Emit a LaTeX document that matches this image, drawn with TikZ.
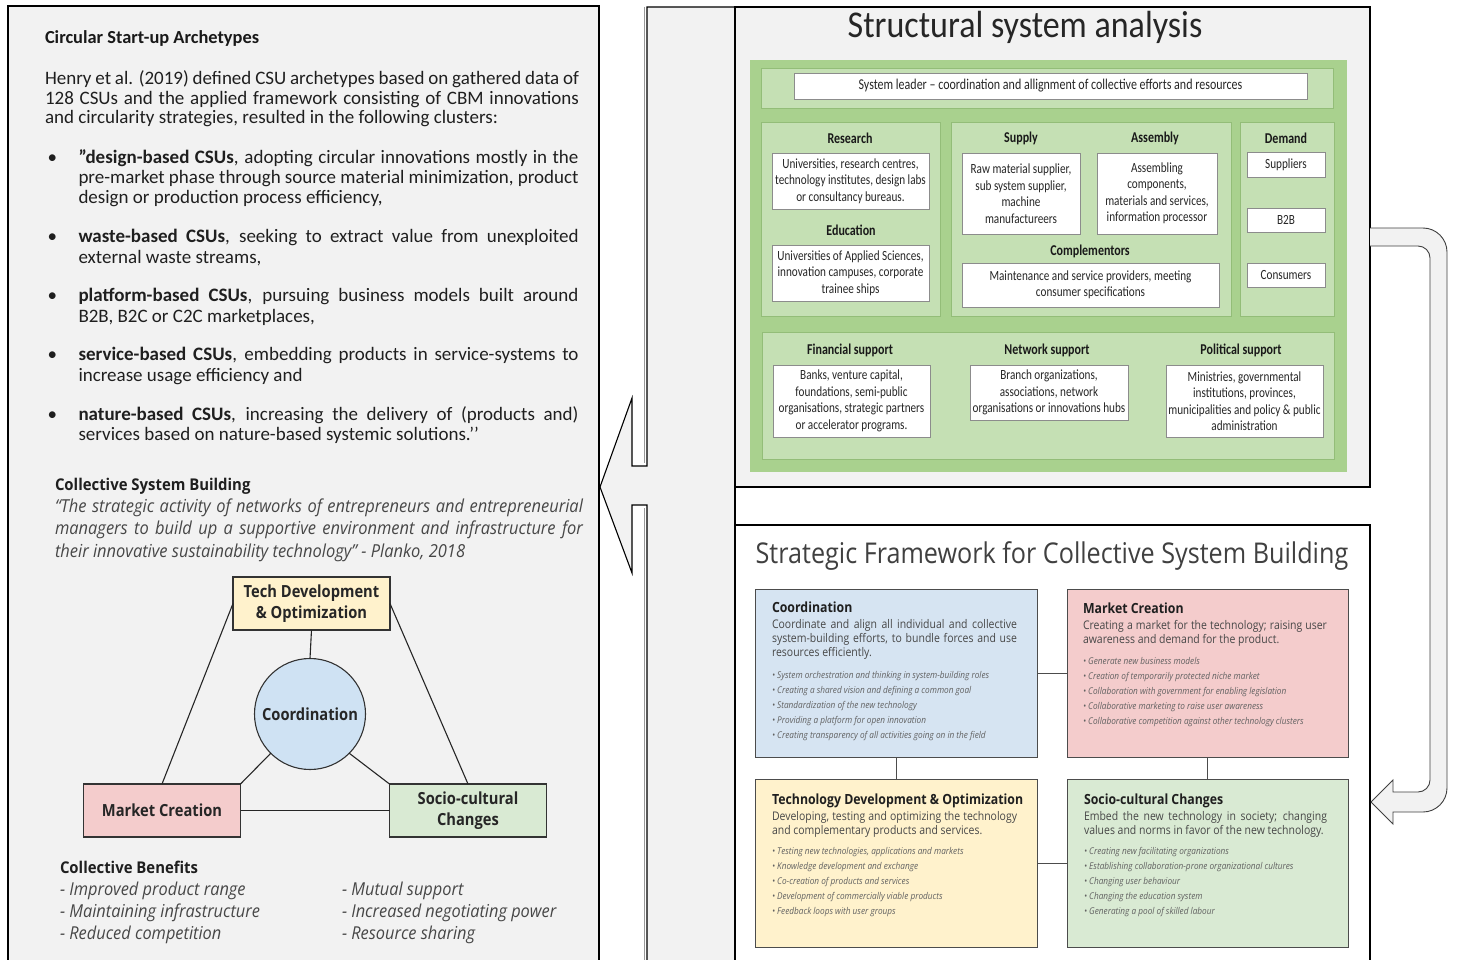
\documentclass[tikz,border=0pt]{standalone}
\usepackage{fontspec}
\setmainfont{Carlito}
\newfontfamily\carn{Carlito}[FakeStretch=0.8]
\newfontfamily\cart{Carlito}[FakeStretch=0.9]
\newfontfamily\osn{Open Sans}[FakeStretch=0.88]
\newfontfamily\osw{Open Sans}[FakeStretch=0.92]
\newcommand\myfs[2]{\fontsize{#1}{#2}\selectfont}
\definecolor{panelgray}{HTML}{F2F2F2}
\definecolor{greenout}{HTML}{A9D18E}
\definecolor{greenin}{HTML}{C5E0B4}
\definecolor{greenedge}{HTML}{93BD78}
\definecolor{coordblue}{HTML}{D6E4F2}
\definecolor{circblue}{HTML}{CFE2F3}
\definecolor{mktpink}{HTML}{F4CCCC}
\definecolor{techyellow}{HTML}{FFF2CC}
\definecolor{sociogreen}{HTML}{D9EAD3}
\begin{document}
\begin{tikzpicture}[x=1pt,y=-1pt,
  every node/.style={inner sep=0pt, outer sep=0pt},
  panel/.style={fill=panelgray, draw=black, line width=1.1pt},
  gpanel/.style={fill=greenin, draw=greenedge, line width=0.6pt},
  wbox/.style={draw=black!45, fill=white, line width=0.6pt, align=center,
    font=\carn\myfs{14}{16.5}, text=black!85},
  ghead/.style={anchor=base, font=\carn\myfs{15}{17}\bfseries, text=black!90},
  lbody/.style={anchor=base west, align=left, font=\myfs{19}{20.2}, text=black!88},
  fbox/.style={draw=black!70, line width=1pt, minimum height=168},
  ftitle/.style={anchor=base west, font=\osn\myfs{14}{16}\bfseries, text=black!88},
  fdesc/.style={anchor=base west, align=left, font=\osn\myfs{11.9}{14.3}, text=black!72},
  fbul/.style={anchor=base west, align=left, font=\osn\itshape\myfs{9.35}{15.2}, text=black!62},
  tribox/.style={draw=black!80, line width=1.1pt, align=center,
    font=\osn\myfs{16.7}{20.5}\bfseries, text=black!85, minimum width=157, minimum height=53},
  triline/.style={draw=black!85, line width=1.1pt},
  link/.style={draw=black!70, line width=1pt},
  blockarrow/.style={fill=panelgray, draw=black!75, line width=0.9pt, line join=miter}
]
\useasboundingbox (0,0) rectangle (1458,960);
\fill[white] (0,0) rectangle (1458,960);
\clip (0,0) rectangle (1458,960);

% ---------- left panel ----------
\fill[panelgray] (8,6) rectangle (599,965);
\draw[line width=1.1pt] (8,965) -- (8,6) -- (599,6) -- (599,965);

\node[anchor=base west, font=\myfs{18.4}{22}\bfseries, text=black!90] (csuTitle) at (45,43.5) {Circular Start-up Archetypes};
% multi-line nodes are anchored at the baseline of their last line
\node[lbody, font=\myfs{19}{19.7}] (csuPara) at (45,123.9) {%
\makebox[534pt][s]{Henry et al. (2019) defined CSU archetypes based on gathered data of}\\
\makebox[534pt][s]{128 CSUs and the applied framework consisting of CBM innovations}\\
and circularity strategies, resulted in the following clusters:};

\node[lbody] (csuA) at (78.5,203.9) {\llap{\makebox[31pt][l]{•}}%
\makebox[500pt][s]{\textbf{”design-based CSUs}, adopting circular innovations mostly in the}\\
\makebox[500pt][s]{pre-market phase through source material minimization, product}\\
design or production process efficiency,};
\node[lbody] (csuB) at (78.5,263) {\llap{\makebox[31pt][l]{•}}%
\makebox[500pt][s]{\textbf{waste-based CSUs}, seeking to extract value from unexploited}\\
external waste streams,};
\node[lbody] (csuC) at (78.5,322) {\llap{\makebox[31pt][l]{•}}%
\makebox[500pt][s]{\textbf{platform-based CSUs}, pursuing business models built around}\\
B2B, B2C or C2C marketplaces,};
\node[lbody] (csuD) at (78.5,381) {\llap{\makebox[31pt][l]{•}}%
\makebox[500pt][s]{\textbf{service-based CSUs}, embedding products in service-systems to}\\
increase usage efficiency and};
\node[lbody] (csuE) at (78.5,440.5) {\llap{\makebox[31pt][l]{•}}%
\makebox[500pt][s]{\textbf{nature-based CSUs}, increasing the delivery of (products and)}\\
services based on nature-based systemic solutions.’’};

\node[anchor=base west, font=\osw\myfs{16.2}{20}\bfseries, text=black!88] (csbTitle) at (55,490) {Collective System Building};
\node[anchor=base west, align=left, font=\osw\itshape\myfs{17.9}{22.5}, text=black!72] (csbQuote) at (55,557) {%
\makebox[528pt][s]{“The strategic activity of networks of entrepreneurs and entrepreneurial}\\
\makebox[528pt][s]{managers to build up a supportive environment and infrastructure for}\\
their innovative sustainability technology” - Planko, 2018};

% triangle of the four activities
\node[tribox, fill=techyellow] (tTech) at (311.5,603.5) {Tech Development\\\& Optimization};
\node[tribox, fill=mktpink] (tMarket) at (162,810.5) {Market Creation};
\node[tribox, fill=sociogreen] (tSocio) at (468,810.5) {Socio-cultural\\Changes};
\node[circle, draw=black!80, line width=1.1pt, fill=circblue, minimum size=111,
  font=\osn\myfs{16.7}{20}\bfseries, text=black!85] (tCoord) at (310,714) {Coordination};
\draw[triline] (tTech.south) -- (tCoord.north);
\draw[triline] (tTech.west) -- (tMarket.north);
\draw[triline] (tTech.east) -- (tSocio.north);
\draw[triline] (tCoord.-135) -- (tMarket.north east);
\draw[triline] (tCoord.-45) -- (tSocio.north west);
\draw[triline] (tMarket.east) -- (tSocio.west);

\node[anchor=base west, font=\osw\myfs{16.2}{20}\bfseries, text=black!88] (benTitle) at (60,873) {Collective Benefits};
\node[anchor=base west, align=left, font=\osw\itshape\myfs{17.8}{22}, text=black!72] (benLeft) at (60,939) {%
- Improved product range\\- Maintaining infrastructure\\- Reduced competition};
\node[anchor=base west, align=left, font=\osw\itshape\myfs{17.8}{22}, text=black!72] (benRight) at (342,939) {%
- Mutual support\\- Increased negotiating power\\- Resource sharing};

% ---------- arrow from the analysis back to the left panel ----------
\fill[panelgray] (735,7) -- (647,7) -- (647,466) -- (632,466) -- (632,398) -- (600,487)
  -- (632,573) -- (632,505) -- (647,505) -- (647,965) -- (735,965) -- cycle;
\draw[black!40, line width=0.8pt] (644.5,7) -- (644.5,463) (644.5,508) -- (644.5,965);
\draw[line width=1.1pt, line join=miter] (735,7) -- (647,7) -- (647,466) -- (632,466) -- (632,398) -- (600,487)
  -- (632,573) -- (632,505) -- (647,505) -- (647,965);

% ---------- structural system analysis ----------
\draw[panel] (735,7) rectangle (1370,487);
\node[anchor=base, font=\cart\myfs{37.8}{40}, text=black!85] (ssaTitle) at (1025,38) {Structural system analysis};
\fill[greenout] (750,60) rectangle (1347,472);

\draw[gpanel] (761,68) rectangle (1333,108);
\node[wbox, font=\carn\myfs{15}{17}, minimum width=513, minimum height=26] (leader) at (1050.5,86)
  {System leader – coordination and allignment of collective efforts and resources};

\draw[gpanel] (761,122) rectangle (940,316);
\node[ghead] (hRes) at (850,144) {Research};
\node[wbox, minimum width=157, minimum height=56] (research) at (850.5,181)
  {Universities, research centres,\\technology institutes, design labs\\or consultancy bureaus.};
\node[ghead] (hEdu) at (851,235) {Education};
\node[wbox, minimum width=157, minimum height=56] (education) at (850.5,273)
  {Universities of Applied Sciences,\\innovation campuses, corporate\\trainee ships};

\draw[gpanel] (951,122) rectangle (1231,316);
\node[ghead] (hSup) at (1021,143) {Supply};
\node[wbox, minimum width=118, minimum height=81] (supply) at (1021,193.5)
  {Raw material supplier,\\sub system supplier,\\machine\\manufactureers};
\node[ghead] (hAsm) at (1155,143) {Assembly};
\node[wbox, minimum width=120, minimum height=81] (assembly) at (1157,193.5)
  {Assembling\\components,\\materials and services,\\information processor};
\node[ghead] (hCom) at (1090,255) {Complementors};
\node[wbox, minimum width=257, minimum height=44] (complement) at (1090.5,285)
  {Maintenance and service providers, meeting\\consumer specifications};

\draw[gpanel] (1240,122) rectangle (1334,316);
\node[ghead] (hDem) at (1286,144) {Demand};
\node[wbox, minimum width=78, minimum height=25] (dSup) at (1286,164.5) {Suppliers};
\node[wbox, minimum width=78, minimum height=24] (dB2B) at (1286,220) {B2B};
\node[wbox, minimum width=78, minimum height=24] (dCon) at (1286,275) {Consumers};

\draw[gpanel] (762,332) rectangle (1334,459);
\node[ghead] (hFin) at (850,354) {Financial support};
\node[wbox, minimum width=157, minimum height=72] (financial) at (851.5,401)
  {Banks, venture capital,\\foundations, semi-public\\organisations, strategic partners\\or accelerator programs.};
\node[ghead] (hNet) at (1047,354) {Network support};
\node[wbox, minimum width=158, minimum height=55] (network) at (1049,392.5)
  {Branch organizations,\\associations, network\\organisations or innovations hubs};
\node[ghead] (hPol) at (1241,354) {Political support};
\node[wbox, minimum width=157, minimum height=72] (political) at (1244.5,401)
  {Ministries, governmental\\institutions, provinces,\\municipalities and policy \& public\\administration};

% ---------- strategic framework ----------
\fill[white] (735,525) rectangle (1370,965);
\draw[line width=1.1pt] (735,965) -- (735,525) -- (1370,525) -- (1370,965);
\draw[line width=1.1pt] (735,7) -- (735,965);
\node[anchor=base, font=\osn\myfs{28.6}{30}, text=black!75] (sfTitle) at (1052,563)
  {Strategic Framework for Collective System Building};

\node[fbox, fill=coordblue, minimum width=282] (fCoord) at (896,673) {};
\node[fbox, fill=mktpink, minimum width=281] (fMarket) at (1207.5,673) {};
\node[fbox, fill=techyellow, minimum width=282] (fTech) at (896,863) {};
\node[fbox, fill=sociogreen, minimum width=281] (fSocio) at (1207.5,863) {};
\draw[link] (fCoord.east) -- (fMarket.west);
\draw[link] (fCoord.south) -- (fTech.north);
\draw[link] (fMarket.south) -- (fSocio.north);
\draw[link] (fTech.east) -- (fSocio.west);

\node[ftitle] (coordT) at (772,612) {Coordination};
\node[fdesc] (coordD) at (772,656.6) {%
\makebox[245pt][s]{Coordinate and align all individual and collective}\\
\makebox[245pt][s]{system-building efforts, to bundle forces and use}\\
resources efficiently.};
\node[fbul] (coordB) at (772,738.8) {%
• System orchestration and thinking in system-building roles\\
• Creating a shared vision and defining a common goal\\
• Standardization of the new technology\\
• Providing a platform for open innovation\\
• Creating transparency of all activities going on in the field};

\node[ftitle] (mktT) at (1083,613) {Market Creation};
\node[fdesc] (mktD) at (1083,643.3) {%
\makebox[244pt][s]{Creating a market for the technology; raising user}\\
awareness and demand for the product.};
\node[fbul] (mktB) at (1083,724.8) {%
• Generate new business models\\
• Creation of temporarily protected niche market\\
• Collaboration with government for enabling legislation\\
• Collaborative marketing to raise user awareness\\
• Collaborative competition against other technology clusters};

\node[ftitle] (techT) at (772,804) {Technology Development \& Optimization};
\node[fdesc] (techD) at (772,834.3) {%
\makebox[245pt][s]{Developing, testing and optimizing the technology}\\
and complementary products and services.};
\node[fbul] (techB) at (772,914.8) {%
• Testing new technologies, applications and markets\\
• Knowledge development and exchange\\
• Co-creation of products and services\\
• Development of commercially viable products\\
• Feedback loops with user groups};

\node[ftitle] (socT) at (1084,804) {Socio-cultural Changes};
\node[fdesc] (socD) at (1084,834.3) {%
\makebox[243pt][s]{Embed the new technology in society; changing}\\
values and norms in favor of the new technology.};
\node[fbul] (socB) at (1084,914.8) {%
• Creating new facilitating organizations\\
• Establishing collaboration-prone organizational cultures\\
• Changing user behaviour\\
• Changing the education system\\
• Generating a pool of skilled labour};

% ---------- arrow from the analysis down to the framework ----------
\draw[blockarrow] (1370,228) -- (1423,228) .. controls (1436.2,228) and (1447,238.8) .. (1447,252)
  -- (1447,788) .. controls (1447,801.2) and (1436.2,812) .. (1423,812)
  -- (1393,812) -- (1393,824) -- (1371,802) -- (1393,780) -- (1393,792)
  -- (1418,792) .. controls (1424.6,792) and (1430,786.6) .. (1430,780)
  -- (1430,258) .. controls (1430,251.4) and (1424.6,246) .. (1418,246)
  -- (1370,246);
\end{tikzpicture}
\end{document}
